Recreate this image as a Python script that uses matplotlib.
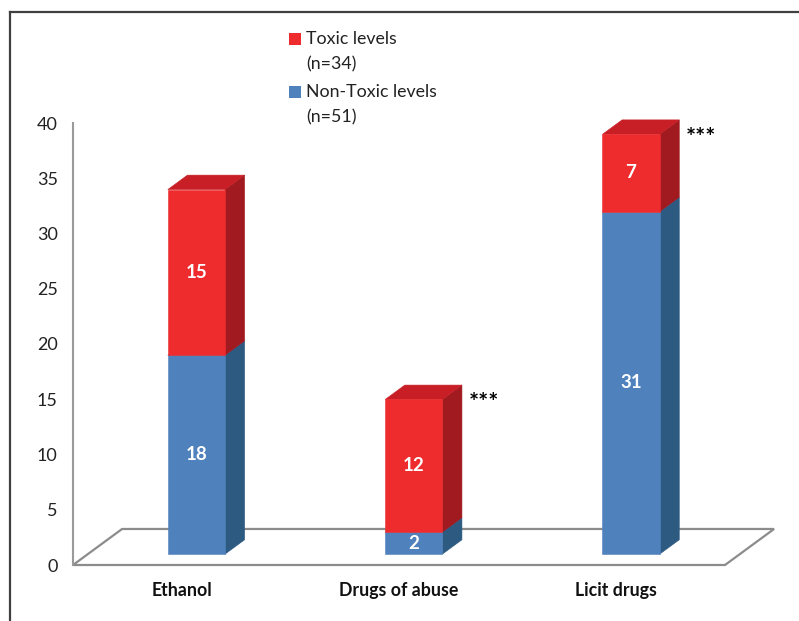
import matplotlib
matplotlib.use("Agg")
import matplotlib.pyplot as plt
from matplotlib.patches import Polygon, Rectangle
from matplotlib.lines import Line2D

# ---- data ----
categories = ["Ethanol", "Drugs of abuse", "Licit drugs"]
non_toxic = [18, 2, 31]
toxic = [15, 12, 7]
significance = ["", "***", "***"]
legend_labels = ["Toxic levels\n(n=34)", "Non-Toxic levels\n(n=51)"]
y_ticks = [0, 5, 10, 15, 20, 25, 30, 35, 40]

# ---- style ----
FONT = "Lato"
RED = {"front": "#EE2C2E", "top": "#C81F26", "side": "#A11A1F"}
BLUE = {"front": "#4F81BD", "top": "#3F6FA6", "side": "#2D5A80"}
FLOOR_COLOR = "#8C8C8C"

W, H = 799, 621
fig = plt.figure(figsize=(W / 100, H / 100), dpi=100)
fig.patch.set_facecolor("white")

# front plane of the 3-D box: categories -0.5..2.5, values 0..40
ax = fig.add_axes([73 / W, (H - 565) / H, (725 - 73) / W, (565 - 123) / H])
ax.set_xlim(-0.5, len(categories) - 0.5)
ax.set_ylim(0, 40)
ax.set_facecolor("none")

# oblique depth of the floor, in (category, value) units
DX, DY = 0.2258, 3.26
BAR_W = 0.263
BAR_FRONT, BAR_BACK = 0.30, 0.70


def floor():
    x0, x1 = -0.5, len(categories) - 0.5
    pts = [(x0, 0), (x1, 0), (x1 + DX, DY), (x0 + DX, DY)]
    ax.add_patch(Polygon(pts, closed=True, facecolor="white",
                         edgecolor=FLOOR_COLOR, lw=1.6, zorder=1,
                         clip_on=False, joinstyle="miter"))


def block(c, y0, y1, colors, z):
    fx, fy = BAR_FRONT * DX, BAR_FRONT * DY
    bx, by = BAR_BACK * DX, BAR_BACK * DY
    l, r = c - BAR_W / 2, c + BAR_W / 2
    front = [(l + fx, y0 + fy), (r + fx, y0 + fy), (r + fx, y1 + fy), (l + fx, y1 + fy)]
    side = [(r + fx, y0 + fy), (r + bx, y0 + by), (r + bx, y1 + by), (r + fx, y1 + fy)]
    top = [(l + fx, y1 + fy), (r + fx, y1 + fy), (r + bx, y1 + by), (l + bx, y1 + by)]
    for pts, key in ((side, "side"), (top, "top"), (front, "front")):
        ax.add_patch(Polygon(pts, closed=True, facecolor=colors[key],
                             edgecolor=colors[key], lw=0.4, zorder=z,
                             clip_on=False))
    return c + fx, fy, r + bx, by


floor()
for i, (nt, tx, sig) in enumerate(zip(non_toxic, toxic, significance)):
    cx, fy, rx, by = block(i, 0, nt, BLUE, 3)
    ax.text(cx, nt / 2 + fy, str(nt), color="white", fontsize=13.5,
            fontweight="bold", family=FONT, ha="center", va="center", zorder=6)
    block(i, nt, nt + tx, RED, 4)
    ax.text(cx, nt + tx / 2 + fy, str(tx), color="white", fontsize=13.5,
            fontweight="bold", family=FONT, ha="center", va="center", zorder=6)
    if sig:
        ax.text(rx + 0.03, nt + tx + 0.6, sig, color="black", fontsize=17,
                fontweight="bold", family=FONT, ha="left", va="center", zorder=6)

# axes styling
for s in ("top", "right", "bottom"):
    ax.spines[s].set_visible(False)
ax.spines["left"].set_color("#9A9A9A")
ax.spines["left"].set_linewidth(1.5)
ax.set_yticks(y_ticks)
ax.set_yticklabels([str(t) for t in y_ticks], family=FONT, fontsize=13,
                   color="#222222")
ax.tick_params(axis="y", length=0, pad=11)
ax.set_xticks(range(len(categories)))
ax.set_xticklabels(categories, family=FONT, fontsize=12.8, fontweight="bold",
                   color="#111111")
ax.tick_params(axis="x", length=0, pad=12.5)

# legend
leg_colors = [RED["front"], BLUE["front"]]
leg_y = [39, 92]
for col, lab, y in zip(leg_colors, legend_labels, leg_y):
    fig.patches.append(Rectangle((289 / W, 1 - (y + 6) / H), 12 / W, 12 / H,
                                 transform=fig.transFigure, facecolor=col,
                                 edgecolor="none"))
    fig.text(306 / W, 1 - (y - 8) / H, lab, family=FONT, fontsize=12.8,
             color="#222222", ha="left", va="top", linespacing=1.7)

# outer frame (top and left edges)
fig.add_artist(Line2D([10 / W, 1], [1 - 12 / H, 1 - 12 / H],
                      transform=fig.transFigure, color="#404040", lw=1.6))
fig.add_artist(Line2D([10 / W, 10 / W], [0, 1 - 12 / H],
                      transform=fig.transFigure, color="#404040", lw=1.6))

fig.savefig("out.png", dpi=100)
